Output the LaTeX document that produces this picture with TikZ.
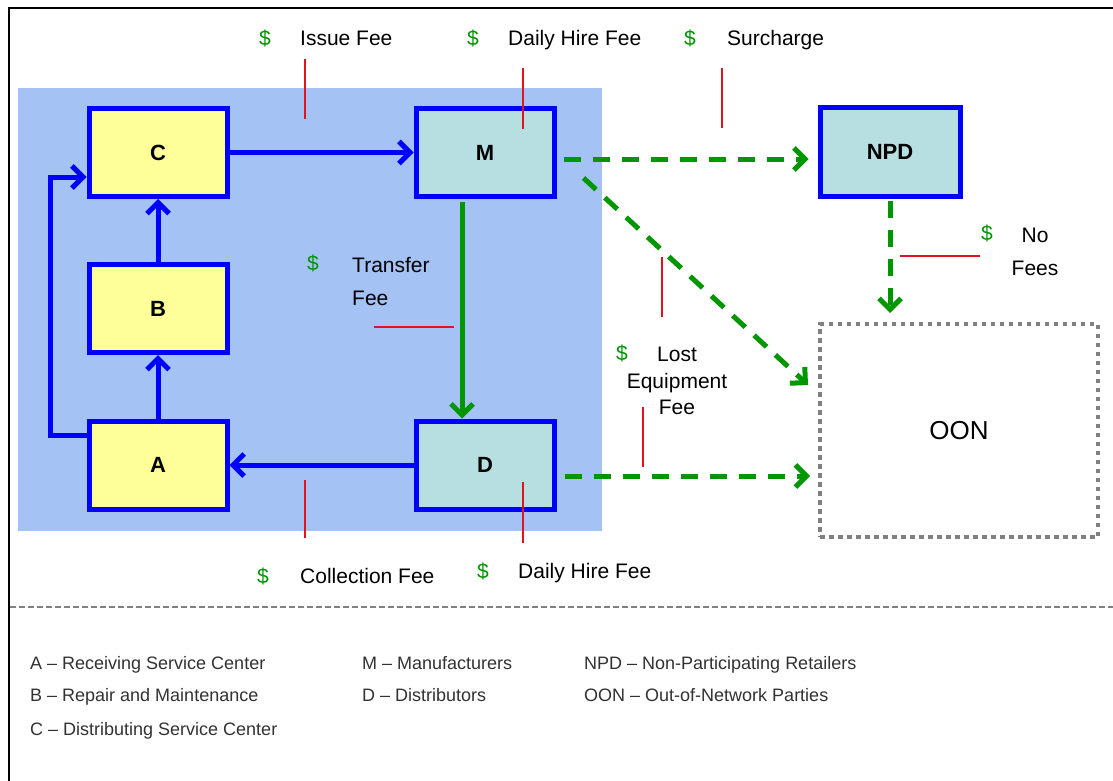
\documentclass[tikz,border=0pt]{standalone}
\usepackage{fontspec}
\setmainfont{Liberation Sans}
\usetikzlibrary{arrows.meta}
\definecolor{bgblue}{RGB}{164,194,244}
\definecolor{boxblue}{RGB}{0,0,255}
\definecolor{boxyellow}{RGB}{255,255,153}
\definecolor{boxteal}{RGB}{183,222,224}
\definecolor{grn}{RGB}{0,150,0}
\definecolor{leaderred}{RGB}{225,20,30}
\definecolor{legendgray}{RGB}{50,50,50}
\definecolor{oongray}{RGB}{128,128,128}
\tikzset{
  box/.style={draw=boxblue, line width=5pt, minimum width=138pt, minimum height=88pt, inner sep=0pt,
    font=\fontsize{22}{26}\selectfont\bfseries},
  ybox/.style={box, fill=boxyellow},
  tbox/.style={box, fill=boxteal},
  barb/.style={-{Straight Barb[length=11pt,width=22pt]}},
  bluearrow/.style={draw=boxblue, line width=5pt, barb},
  bluepath/.style={draw=boxblue, line width=5pt},
  greenarrow/.style={draw=grn, line width=5pt, barb},
  greendash/.style={draw=grn, line width=5pt, dash pattern=on 17pt off 12pt, barb},
  leader/.style={draw=leaderred, line width=1.2pt},
  onelinetext/.style={text height=15pt, text depth=4pt},
  dollar/.style={text=grn, font=\fontsize{21}{25}\selectfont, inner sep=0pt, onelinetext},
  lbl/.style={text=black, font=\fontsize{21}{25}\selectfont, inner sep=0pt, anchor=west},
  lbl1/.style={lbl, onelinetext},
  legend/.style={text=legendgray, font=\fontsize{18}{22}\selectfont, inner sep=0pt, anchor=west,
    text height=13pt, text depth=4pt}
}
\begin{document}
\begin{tikzpicture}[x=1pt,y=-1pt]
\useasboundingbox (0,0) rectangle (1113,781);
\fill[white] (0,0) rectangle (1113,781);
\draw[black, line width=2.5pt] (9,781) -- (9,8) -- (1113,8);
\fill[bgblue] (18,88) rectangle (602,531);

% boxes
\node[ybox] (C) at (158,152.5) {C};
\node[ybox] (B) at (158,308.5) {B};
\node[ybox] (A) at (158,465) {A};
\node[tbox] (M) at (485,152.5) {M};
\node[tbox] (D) at (485,465) {D};
\node[tbox, minimum width=140pt] (NPD) at (890,152) {NPD};
\node[draw=oongray, line width=4pt, dash pattern=on 4.5pt off 4.5pt, minimum width=278pt, minimum height=213pt,
      inner sep=0pt, font=\fontsize{26}{30}\selectfont] (OON) at (959,430.5) {OON};

% connectors
\draw[bluearrow] (C.east) -- (M.west);
\draw[bluearrow] (B.north) -- (C.south);
\draw[bluearrow] (A.north) -- (B.south);
\draw[bluearrow] (D.west) -- (A.east);
\coordinate (loopA) at (50,435);
\coordinate (loopC) at (50,177);
\draw[bluepath] ([yshift=30pt]A.west) -- (loopA) -- (loopC);
\draw[bluearrow] ([xshift=-2.5pt]loopC) -- (loopC -| C.west);
\draw[greenarrow, shorten <=2.5pt] ([xshift=-23pt]M.south) -- ([xshift=-23pt]D.north);
\draw[greendash, shorten <=7pt, shorten >=9pt] ([yshift=-6.5pt]M.east) -- ([yshift=-6.5pt]M.east -| NPD.west);
\draw[greendash] ([xshift=27pt,yshift=-25.5pt]M.east) -- ([xshift=-10pt,yshift=45.5pt]OON.west);
\draw[greendash, shorten <=8pt, shorten >=8pt] ([yshift=-11pt]D.east) -- ([yshift=-11pt]D.east -| OON.west);
\draw[greendash, shorten <=2.5pt, shorten >=9pt] (NPD.south) -- (NPD.south |- OON.north);

% leader lines
\draw[leader] (305,59) -- (305,119);
\draw[leader] (523,68) -- (523,129);
\draw[leader] (722,68) -- (722,128);
\draw[leader] (374,327) -- (454,327);
\draw[leader] (662,257) -- (662,317);
\draw[leader] (643,407) -- (643,467);
\draw[leader] (900,256) -- (980,256);
\draw[leader] (305,480) -- (305,538);
\draw[leader] (523,482) -- (523,543);

% fee labels
\node[dollar] (d1) at (265,40) {\$};
\node[lbl1] (issue) at (300,40) {Issue Fee};
\node[dollar] (d2) at (473,40) {\$};
\node[lbl1] (dailytop) at (508,40) {Daily Hire Fee};
\node[dollar] (d3) at (690,40) {\$};
\node[lbl1] (sur) at (727,40) {Surcharge};
\node[dollar] (d4) at (313,265) {\$};
\node[lbl, align=left, font=\fontsize{21}{33}\selectfont] (transfer) at (352,281.5) {Transfer\\Fee};
\node[dollar] (d5) at (622,355) {\$};
\node[lbl, anchor=center, align=center, font=\fontsize{21}{26.5}\selectfont] (lost) at (677,381) {Lost\\Equipment\\Fee};
\node[dollar] (d6) at (987,235) {\$};
\node[lbl, anchor=center, align=center, font=\fontsize{21}{33}\selectfont] (nofees) at (1035,251.5) {No\\Fees};
\node[dollar] (d7) at (263,578) {\$};
\node[lbl1] (coll) at (300,578) {Collection Fee};
\node[dollar] (d8) at (483,573) {\$};
\node[lbl1] (dailybot) at (518,573) {Daily Hire Fee};

% separator
\draw[draw=oongray, line width=1.2pt, dash pattern=on 6pt off 3pt] (10,607) -- (1113,607);

% legend
\node[legend] (lA) at (30,665) {A -- Receiving Service Center};
\node[legend] (lB) at (30,697) {B -- Repair and Maintenance};
\node[legend] (lC) at (30,731) {C -- Distributing Service Center};
\node[legend] (lM) at (362,665) {M -- Manufacturers};
\node[legend] (lD) at (362,697) {D -- Distributors};
\node[legend] (lN) at (584,665) {NPD -- Non-Participating Retailers};
\node[legend] (lO) at (584,697) {OON -- Out-of-Network Parties};
\end{tikzpicture}
\end{document}
